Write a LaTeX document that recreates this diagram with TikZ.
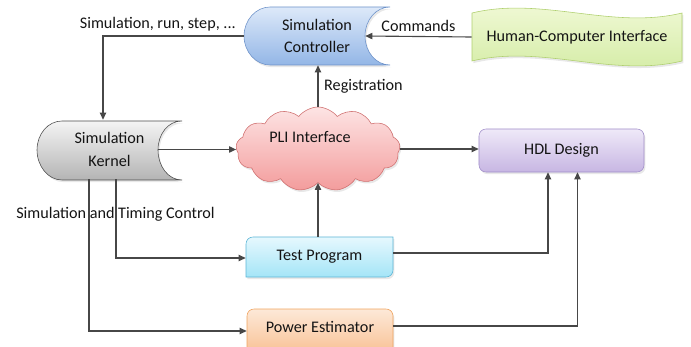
\documentclass[tikz,border=0pt]{standalone}
\usepackage{fontspec}
\setmainfont{Carlito}
\usepackage{tikz}
\usetikzlibrary{positioning,calc,arrows.meta,shapes.symbols,shadows}

\definecolor{ctrlTop}{HTML}{DDE9F9}
\definecolor{ctrlBot}{HTML}{93B6E6}
\definecolor{ctrlLine}{HTML}{6D92C9}
\definecolor{kernTop}{HTML}{F4F4F4}
\definecolor{kernBot}{HTML}{B4B4B4}
\definecolor{cloudTop}{HTML}{FDE4E4}
\definecolor{cloudBot}{HTML}{F39C9C}
\definecolor{cloudLine}{HTML}{CF6E6E}
\definecolor{hdlTop}{HTML}{EFE9F8}
\definecolor{hdlBot}{HTML}{C7B6E3}
\definecolor{hdlLine}{HTML}{A08DC9}
\definecolor{testTop}{HTML}{E6F8FE}
\definecolor{testBot}{HTML}{A4E5F7}
\definecolor{testLine}{HTML}{5DB6D6}
\definecolor{powTop}{HTML}{FDE9D8}
\definecolor{powBot}{HTML}{F8BB8A}
\definecolor{powLine}{HTML}{F0A35E}
\definecolor{hciTop}{HTML}{F3FADA}
\definecolor{hciBot}{HTML}{D2EBA2}
\definecolor{hciLine}{HTML}{AFCF6E}

\begin{document}
\begin{tikzpicture}[x=0.025cm, y=-0.025cm, font=\fontsize{11.5}{14}\selectfont,
    conn/.style={draw=black!72, line width=0.8pt},
    arr/.style={conn, -{Triangle[length=5pt, width=4.5pt]}},
    shade/.style={drop shadow={opacity=0.18, shadow xshift=1pt, shadow yshift=-1.5pt}},
    txt/.style={align=center, inner sep=0pt, text=black!92}]
  \useasboundingbox (0,0) rectangle (691,347);

  % shapes first
  \draw[shade, draw=ctrlLine, top color=ctrlTop, bottom color=ctrlBot]
    (270,7) -- (390,7) .. controls (376,7) and (365,20) .. (365,36)
    .. controls (365,52) and (376,65) .. (390,65) -- (270,65)
    .. controls (256,65) and (244,52) .. (244,36)
    .. controls (244,20) and (256,7) .. (270,7) -- cycle;
  \draw[shade, draw=hciLine, top color=hciTop, bottom color=hciBot]
    (472,13) .. controls (542,-4) and (612,30) .. (682,13) -- (682,61)
    .. controls (612,78) and (542,44) .. (472,61) -- cycle;
  \draw[shade, draw=black!70, top color=kernTop, bottom color=kernBot]
    (62,121) -- (182,121) .. controls (168,121) and (158,134) .. (158,150)
    .. controls (158,166) and (168,180) .. (182,180) -- (62,180)
    .. controls (48,180) and (37,166) .. (37,150)
    .. controls (37,134) and (48,121) .. (62,121) -- cycle;
  \draw[shade, draw=testLine, top color=testTop, bottom color=testBot]
    (246,277) -- (246,244) .. controls (246,240) and (249,237) .. (253,237)
    -- (393,237) -- (393,270) .. controls (393,274) and (390,277) .. (386,277) -- cycle;
  \draw[shade, draw=powLine, top color=powTop, bottom color=powBot]
    (247,360) -- (247,316) .. controls (247,312) and (250,309) .. (254,309)
    -- (386,309) .. controls (390,309) and (393,312) .. (393,316) -- (393,360) -- cycle;

  % nodes
  \node[txt, minimum width=3.65cm, minimum height=1.45cm] (ctrl) at (317,36) {Simulation\\[2pt]Controller};
  \node[txt, minimum width=5.25cm, minimum height=1.2cm] (hci) at (577,37) {Human-Computer Interface};
  \node[txt, minimum width=3.625cm, minimum height=1.475cm] (kernel) at (109.5,149.5) {Simulation\\[2pt]Kernel};
  \node[cloud, cloud puffs=13, cloud puff arc=105, aspect=2, draw=cloudLine, top color=cloudTop,
    bottom color=cloudBot, shade, minimum width=4.1cm, minimum height=2.1cm, inner sep=0pt] (pli) at (318,149) {};
  \node[txt] (plitxt) at (310,137) {PLI Interface};
  \node[rounded corners=5pt, draw=hdlLine, top color=hdlTop, bottom color=hdlBot, shade,
    minimum width=4.125cm, minimum height=1.075cm, text=black!92] (hdl) at (561.5,150.5) {HDL Design};
  \node[txt, minimum width=3.675cm, minimum height=1cm] (test) at (319.5,257) {Test Program};
  \node[txt, minimum width=3.65cm, minimum height=0.9cm] (power) at (320,327) {Power Estimator};

  % connectors
  \draw[arr] (ctrl.west) -| ($(kernel.north)+(-6.5,0)$);
  \node[txt, anchor=south east] (runlbl) at (236,31) {Simulation, run, step, ...};
  \draw[arr] (hci.west) -- ($(ctrl.east)+(-25,0)$) node[midway, above=3pt, txt] (cmdlbl) {Commands};
  \draw[arr] (pli.north) -- (pli.north |- ctrl.south) node[midway, right=4pt, txt] (reglbl) {Registration};
  \draw[arr] ($(kernel.east)+(-24,0)$) -- (pli.west |- kernel.east);
  \draw[arr] (pli.east) -- (pli.east -| hdl.west);
  \draw[arr] (pli.south |- test.north) -- (pli.south);
  \draw[arr] ($(kernel.south)+(6.5,0)$) |- ($(test.west)+(0,1)$);
  \draw[arr] ($(kernel.south)+(-20.5,0)$) |- ($(power.west)+(0,4)$);
  \draw[arr] ($(test.east)+(0,-4)$) -| ($(hdl.south)+(-13.5,0)$);
  \draw[arr] ($(power.east)+(0,-1)$) -| ($(hdl.south)+(16,0)$);
  \node[txt, anchor=west] (timelbl) at (16,214) {Simulation and Timing Control};
\end{tikzpicture}
\end{document}
